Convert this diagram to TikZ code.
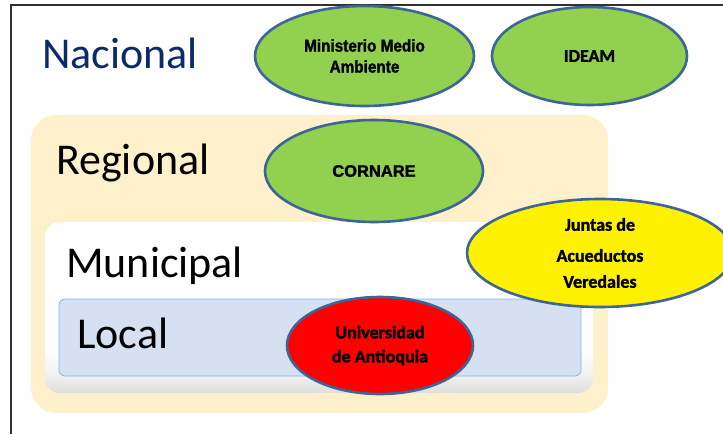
\documentclass[tikz,border=0pt]{standalone}
\usepackage{fontspec}
\setmainfont{Carlito}
\newfontfamily\arialnar[FakeStretch=0.9,BoldFeatures={FakeBold=1.6}]{Liberation Sans}
\newfontfamily\arialf[BoldFeatures={FakeBold=1.6}]{Liberation Sans}
\newfontfamily\calbb[BoldFeatures={FakeBold=1.6}]{Carlito}
\usetikzlibrary{shapes.geometric}
\definecolor{navy}{HTML}{0B2A6B}
\definecolor{cream}{HTML}{FFF0CC}
\definecolor{localfill}{HTML}{D5E0F1}
\definecolor{localline}{HTML}{8DB4E2}
\definecolor{ellline}{HTML}{3D6595}
\definecolor{green}{HTML}{92D050}
\definecolor{frame}{HTML}{303030}
\pgfdeclareverticalshading{munshade}{100bp}{color(0bp)=(black!13); color(25bp)=(black!13); color(31bp)=(black!5); color(38bp)=(white); color(100bp)=(white)}
\tikzset{
  level/.style={anchor=base west, inner sep=0pt, font=\fontsize{44}{44}\selectfont},
  org/.style={ellipse, draw=ellline, line width=2.6pt, inner sep=0pt, align=center, text=black},
}
\begin{document}
\begin{tikzpicture}[x=1pt,y=-1pt]
\useasboundingbox (0,0) rectangle (723,434);
% frame
\draw[frame, line width=1.2pt] (723,5) -- (11,5) -- (11,434);
% level boxes
\fill[cream, rounded corners=25pt] (31,115) rectangle (608,413);
\shade[shading=munshade, rounded corners=15pt] (45,222) rectangle (593,393);
\draw[localline, fill=localfill, line width=0.8pt, rounded corners=6pt] (59,299) rectangle (581,376);
% level labels
\node[level, text=navy] (nac) at (42,68) {Nacional};
\node[level] (reg) at (56,174) {Regional};
\node[level] (mun) at (66,277) {Municipal};
\node[level] (loc) at (77,348) {Local};
% organisations
\node[org, fill=green, minimum width=219pt, minimum height=100pt,
  font=\arialnar\bfseries\fontsize{17}{21}\selectfont] (min) at (364.5,56) {Ministerio Medio\\Ambiente};
\node[org, fill=green, minimum width=195pt, minimum height=98pt,
  font=\calbb\bfseries\fontsize{18}{21}\selectfont] (ideam) at (589.5,56) {IDEAM};
\node[org, fill=green, minimum width=218pt, minimum height=102pt,
  font=\arialf\bfseries\fontsize{16.5}{21}\selectfont] (corn) at (374,171) {CORNARE};
\node[org, fill=yellow, minimum width=266pt, minimum height=108pt,
  font=\calbb\bfseries\fontsize{18}{26}\selectfont] (juntas) at (600,253) {Juntas de\\[5pt]Acueductos\\Veredales};
\node[org, fill=red, minimum width=186pt, minimum height=97pt,
  font=\calbb\bfseries\fontsize{18}{24}\selectfont] (udea) at (380,345.5) {Universidad\\de Antioquia};
\end{tikzpicture}
\end{document}
